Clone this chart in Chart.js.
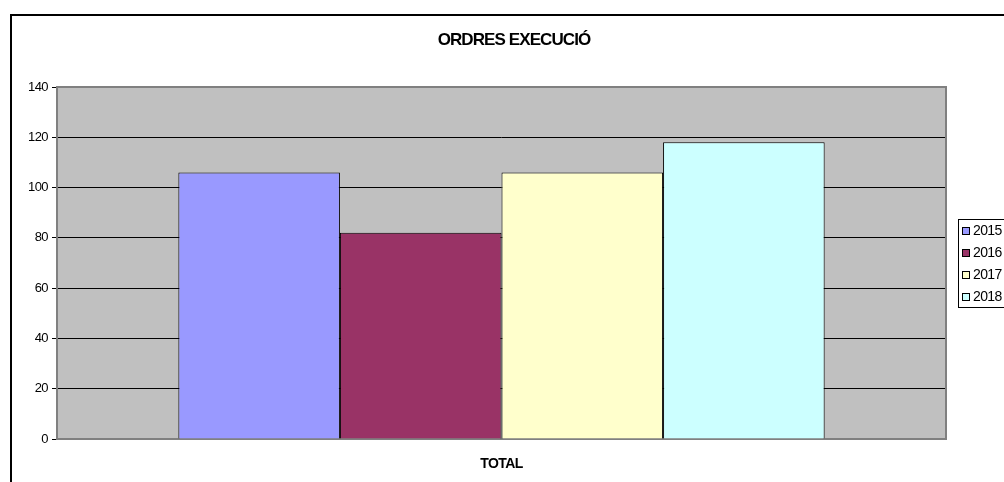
<!DOCTYPE html>
<html>
<head>
<meta charset="utf-8">
<script src="https://cdn.jsdelivr.net/npm/chart.js@4"></script>
<style>
  body { margin: 0; background: #fff; overflow: hidden; }
  #frame { position: absolute; left: 10px; top: 14px; width: 1000px; height: 480px;
           border-left: 2px solid #000; border-top: 2px solid #000; }
  #myChart { position: absolute; left: 0; top: 0; }
</style>
</head>
<body>
<div id="frame"></div>
<canvas id="myChart" width="1004" height="482"></canvas>
<script>
// data
var chartTitle = 'ORDRES EXECUCIÓ';
var categories = ['TOTAL'];
var years = ['2015', '2016', '2017', '2018'];
var values = [106, 82, 106, 118];
var colors = ['#9999FF', '#993366', '#FFFFCC', '#CCFFFF'];
var yTicks = [0, 20, 40, 60, 80, 100, 120, 140];

var font = "'Liberation Sans', Arial, sans-serif";

// plot background, gray border, title and a boxed legend like the old spreadsheet one
var excelLook = {
    id: 'excelLook',
    beforeDraw: function (chart) {
        var ctx = chart.ctx, a = chart.chartArea;
        ctx.letterSpacing = '-0.6px';
        ctx.save();
        ctx.fillStyle = '#C0C0C0';
        ctx.fillRect(a.left, a.top, a.right - a.left, a.bottom - a.top);
        ctx.restore();
    },
    beforeDatasetsDraw: function (chart) {
        var ctx = chart.ctx, a = chart.chartArea;
        ctx.save();
        ctx.strokeStyle = '#808080';
        ctx.lineWidth = 2;
        ctx.strokeRect(a.left, a.top, a.right - a.left, a.bottom - a.top);
        ctx.restore();
    },
    afterDraw: function (chart) {
        var ctx = chart.ctx, a = chart.chartArea;
        // title
        ctx.save();
        ctx.letterSpacing = '-0.9px';
        ctx.font = 'bold 17px ' + font;
        ctx.fillStyle = '#000';
        ctx.textAlign = 'center';
        ctx.textBaseline = 'middle';
        ctx.fillText(chartTitle, 514, 40);
        ctx.restore();

        // legend
        var sets = chart.data.datasets;
        var rowH = 22;
        var boxH = sets.length * rowH;
        var x = a.right + 12;
        var y = (a.top + a.bottom) / 2 - boxH / 2;
        ctx.save();
        ctx.fillStyle = '#fff';
        ctx.fillRect(x, y, 70, boxH);
        ctx.strokeStyle = '#000';
        ctx.lineWidth = 1;
        ctx.strokeRect(x + 0.5, y + 0.5, 70, boxH);
        ctx.font = '14px ' + font;
        ctx.textBaseline = 'middle';
        sets.forEach(function (ds, i) {
            var cy = y + rowH / 2 + i * rowH + 1;
            ctx.fillStyle = ds.backgroundColor;
            ctx.fillRect(x + 4.5, cy - 3.5, 7, 7);
            ctx.strokeStyle = '#000';
            ctx.strokeRect(x + 4.5, cy - 3.5, 7, 7);
            ctx.fillStyle = '#000';
            ctx.fillText(ds.label, x + 15, cy);
        });
        ctx.restore();
    }
};

var ctx = document.getElementById('myChart').getContext('2d');
var chart = new Chart(ctx, {
    type: 'bar',
    data: {
        labels: categories,
        datasets: years.map(function (y, i) {
            return {
                label: y,
                data: [values[i]],
                backgroundColor: colors[i],
                borderColor: '#000',
                borderWidth: 1,
                categoryPercentage: 0.727,
                barPercentage: 1.0
            };
        })
    },
    options: {
        responsive: false,
        animation: false,
        layout: { padding: { left: 12, right: 58, top: 87, bottom: 0 } },
        plugins: {
            legend: { display: false },
            tooltip: { enabled: false },
            title: { display: false }
        },
        scales: {
            x: {
                grid: { display: false, drawTicks: false },
                border: { display: false },
                ticks: { color: '#000', padding: 17, font: { family: font, size: 14, weight: 'bold' } },
                afterFit: function (s) { s.height = 43; }
            },
            y: {
                min: 0,
                max: 140,
                afterBuildTicks: function (s) { s.ticks = yTicks.map(function (v) { return { value: v }; }); },
                grid: { color: '#000', lineWidth: 1, tickLength: 5, tickColor: '#000' },
                border: { display: false },
                ticks: { color: '#000', padding: 4, font: { family: font, size: 13 } },
                afterFit: function (s) { s.width = 45; }
            }
        }
    },
    plugins: [excelLook]
});
</script>
</body>
</html>
